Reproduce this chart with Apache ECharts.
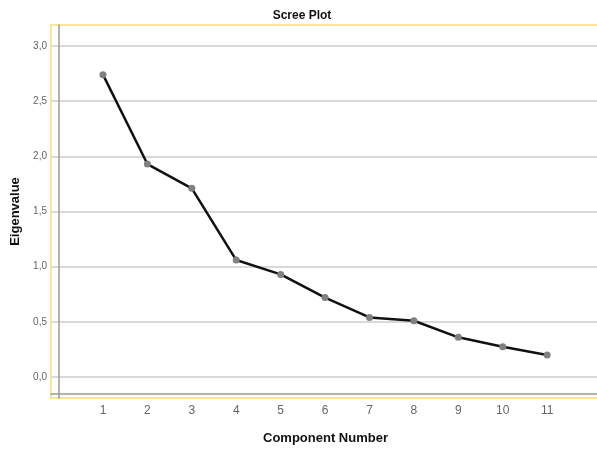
<!DOCTYPE html>
<html>
<head>
<meta charset="utf-8">
<script src="https://cdn.jsdelivr.net/npm/echarts@6/dist/echarts.min.js"></script>
<style>
  html, body { margin: 0; padding: 0; background: #fff; overflow: hidden; }
  /* wider than the window so the plot frame runs off the right edge, as in the original */
  #chart { width: 612px; height: 457px; }
</style>
</head>
<body>
<div id="chart"></div>
<script>
// scree plot values
const components = [1, 2, 3, 4, 5, 6, 7, 8, 9, 10, 11];
const eigenvalues = [2.74, 1.93, 1.71, 1.06, 0.93, 0.72, 0.54, 0.51, 0.36, 0.275, 0.20];
const yTicks = [0, 0.5, 1.0, 1.5, 2.0, 2.5, 3.0];

const chart = echarts.init(document.getElementById('chart'));

const option = {
  animation: false,
  title: {
    text: 'Scree Plot',
    left: 297,
    top: 5,
    textAlign: 'center',
    textStyle: { fontFamily: 'Liberation Sans', fontSize: 12, fontWeight: 'bold', color: '#111' }
  },
  grid: {
    left: 51,
    top: 25,
    bottom: 59,
    right: 0,
    show: true,
    borderColor: '#fce49a',
    borderWidth: 2
  },
  xAxis: {
    type: 'value',
    min: -0.17,
    max: 12.46,
    name: 'Component Number',
    nameLocation: 'middle',
    nameGap: 38,
    nameTextStyle: { fontFamily: 'Liberation Sans', fontSize: 13, fontWeight: 'bold', color: '#111', padding: [0, 12, 0, 0] },
    offset: -4,
    axisLine: { show: true, onZero: false, lineStyle: { color: '#9a9a9a', width: 1.5 } },
    axisTick: { show: false, customValues: components },
    splitLine: { show: false },
    axisLabel: {
      customValues: components,
      fontFamily: 'Liberation Sans',
      fontSize: 12,
      color: '#666',
      margin: 11
    }
  },
  yAxis: {
    type: 'value',
    min: -0.19,
    max: 3.19,
    name: 'Eigenvalue',
    nameLocation: 'middle',
    nameGap: 26,
    nameTextStyle: { fontFamily: 'Liberation Sans', fontSize: 13, fontWeight: 'bold', color: '#111', padding: [12, 0, 0, 0] },
    offset: -2,
    axisLine: { show: true, lineStyle: { color: '#9a9a9a', width: 1.5 } },
    axisTick: { show: false, customValues: yTicks },
    splitLine: { show: true, lineStyle: { color: '#d9d9d9', width: 2 } },
    axisLabel: {
      customValues: yTicks,
      fontFamily: 'Liberation Sans',
      fontSize: 10,
      color: '#666',
      margin: 6,
      formatter: v => v.toFixed(1).replace('.', ',')
    }
  },
  series: [{
    type: 'line',
    data: components.map((c, i) => [c, eigenvalues[i]]),
    symbol: 'circle',
    symbolSize: 7,
    lineStyle: { color: '#111', width: 2.5 },
    itemStyle: { color: '#808080' }
  }]
};

chart.setOption(option);
</script>
</body>
</html>
